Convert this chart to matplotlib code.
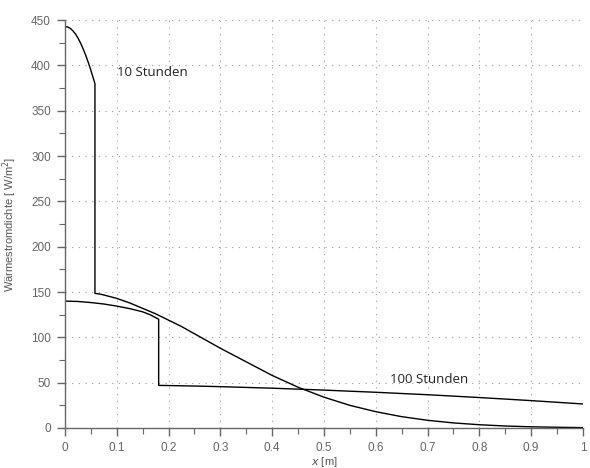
import matplotlib
matplotlib.use("Agg")
import matplotlib.pyplot as plt
from matplotlib.ticker import MultipleLocator

# Heat flux density profiles after 10 h and 100 h
x_10h = [0.0, 0.005, 0.01, 0.015, 0.02, 0.025, 0.03, 0.035, 0.04, 0.045, 0.05, 0.055,
         0.058, 0.058, 0.07, 0.08, 0.09, 0.1, 0.125, 0.15, 0.175,
         0.2, 0.225, 0.25, 0.275, 0.3, 0.35, 0.4, 0.45, 0.5, 0.55, 0.6, 0.65, 0.7,
         0.75, 0.8, 0.85, 0.9, 0.95, 1.0]
q_10h = [443, 442.5, 441, 438.5, 435, 430.5, 425, 418.5, 411.5, 403.5, 395, 385.5,
         380, 148.5, 147.5, 146, 144.5, 143, 138, 132, 126,
         119, 112, 104, 96, 88, 73, 58, 45, 34, 25, 18, 12.5, 8.5,
         5.6, 3.6, 2.2, 1.3, 0.8, 0.4]

x_100h = [0.0, 0.025, 0.05, 0.075, 0.1, 0.125, 0.15, 0.165, 0.181, 0.181, 0.25, 0.3,
          0.4, 0.5, 0.6, 0.7, 0.8, 0.9, 1.0]
q_100h = [140, 139.6, 138.4, 136.8, 134.5, 131.7, 128.2, 124.8, 120, 47, 46.3, 45.6,
          43.9, 41.8, 39.4, 36.7, 33.6, 30.2, 26.5]

label_10h = "10 Stunden"
label_100h = "100 Stunden"

grey = "#666666"
tick_font = ["Liberation Sans", "DejaVu Sans"]
note_font = ["Open Sans", "DejaVu Sans"]

fig = plt.figure(figsize=(5.9, 4.68), dpi=100)
ax = fig.add_axes([0.110, 0.0855, 0.878, 0.8715])

ax.plot(x_10h, q_10h, color="black", lw=1.0)
ax.plot(x_100h, q_100h, color="black", lw=1.0)

ax.text(0.10, 392, label_10h, fontsize=9.5, color="#222222", va="center", ha="left",
        family=note_font)
ax.text(0.627, 54, label_100h, fontsize=9.5, color="#222222", va="center", ha="left",
        family=note_font)

ax.set_xlim(0, 1)
ax.set_ylim(0, 450)
ax.xaxis.set_minor_locator(MultipleLocator(0.05))
ax.yaxis.set_major_locator(MultipleLocator(50))
ax.yaxis.set_minor_locator(MultipleLocator(25))
ax.set_xticks([i / 10 for i in range(11)])
ax.set_xticklabels(["0", "0.1", "0.2", "0.3", "0.4", "0.5", "0.6", "0.7", "0.8", "0.9", "1"])

ax.grid(True, which="major", color="#9a9a9a", linestyle=(0, (1, 5)), lw=0.8)
ax.set_axisbelow(True)

for side in ("top", "right"):
    ax.spines[side].set_visible(False)
for side in ("left", "bottom"):
    ax.spines[side].set_color(grey)
    ax.spines[side].set_linewidth(1.0)

ax.tick_params(which="major", direction="out", length=6, width=1.0, color=grey,
               labelcolor="#666666", labelsize=8.5, pad=4)
ax.tick_params(which="minor", direction="out", length=4, width=0.8, color=grey)
for lbl in ax.get_xticklabels() + ax.get_yticklabels():
    lbl.set_family(tick_font)

ax.set_xlabel("$x$ [m]", fontsize=8, color="#555555", labelpad=1, family=tick_font)
ax.set_ylabel("Wärmestromdichte [ W/m$^2$]", fontsize=8, color="#555555", labelpad=9,
              family=tick_font)

fig.savefig("out.png", dpi=100)
